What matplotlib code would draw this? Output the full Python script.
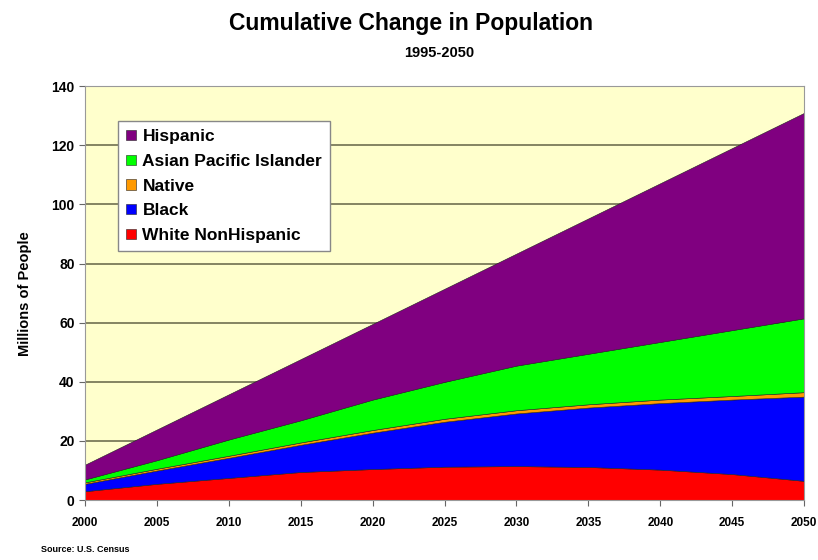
import matplotlib
matplotlib.use("Agg")
import matplotlib.pyplot as plt
import numpy as np

years = [2000, 2005, 2010, 2015, 2020, 2025, 2030, 2035, 2040, 2045, 2050]
# band values (millions)
white = [3.0, 5.5, 7.5, 9.5, 10.5, 11.3, 11.5, 11.2, 10.3, 8.8, 6.5]
black = [2.5, 4.5, 6.8, 9.2, 12.3, 15.2, 17.8, 20.1, 22.5, 25.2, 28.5]
native = [0.5, 0.6, 0.7, 0.8, 0.9, 1.0, 1.1, 1.1, 1.2, 1.2, 1.5]
asian = [1.0, 2.9, 5.5, 7.5, 10.3, 12.5, 15.1, 17.1, 19.5, 22.3, 25.0]
hispanic = [5.0, 10.4, 15.3, 20.7, 25.6, 31.5, 37.9, 45.8, 53.7, 61.6, 69.5]

labels = ["White NonHispanic", "Black", "Native", "Asian Pacific Islander", "Hispanic"]
colors = ["#FF0000", "#0000FF", "#FF9900", "#00FF00", "#800080"]
yticks = [0, 20, 40, 60, 80, 100, 120, 140]

plt.rcParams['font.family'] = ['Liberation Sans', 'DejaVu Sans']
fig = plt.figure(figsize=(8.18, 5.6), dpi=100)
ax = fig.add_axes([0.104, 0.107, 0.879, 0.739])
ax.set_facecolor("#FFFFCC")

polys = ax.stackplot(years, white, black, native, asian, hispanic,
                     colors=colors, labels=labels, edgecolor="#222222", linewidth=0.4, zorder=2)

ax.set_xlim(2000, 2050)
ax.set_ylim(0, 140)
ax.set_yticks(yticks)
ax.set_xticks(years)
ax.set_xticklabels([str(y) for y in years], fontsize=8.5, fontweight="bold")
ax.set_yticklabels([str(t) for t in yticks], fontsize=10, fontweight="bold")
ax.yaxis.grid(True, color="#707050", linewidth=1.2, zorder=1)
ax.set_axisbelow(True)
for s in ax.spines.values():
    s.set_color("#999999")
ax.tick_params(axis="both", direction="out", length=4, color="#666666")
ax.tick_params(axis="x", pad=8)

ax.set_ylabel("Millions of People", fontsize=10.5, fontweight="bold", labelpad=14)

fig.text(0.502, 0.958, "Cumulative Change in Population", ha="center", va="center",
         fontsize=16.5, fontweight="bold")
fig.text(0.537, 0.905, "1995-2050", ha="center", va="center", fontsize=10.5, fontweight="bold")
fig.text(0.05, 0.018, "Source: U.S. Census", ha="left", va="center", fontsize=6.5, fontweight="bold")

handles, labs = ax.get_legend_handles_labels()
leg = ax.legend(handles[::-1], labs[::-1], loc="upper left", bbox_to_anchor=(0.046, 0.915),
                borderaxespad=0,
                frameon=True, fancybox=False, prop={"weight": "bold", "size": 12.5},
                handlelength=0.55, handleheight=0.55, handletextpad=0.4,
                labelspacing=0.56, borderpad=0.45)
leg.get_frame().set_edgecolor("#888888")
leg.get_frame().set_facecolor("white")
leg.get_frame().set_alpha(1)
leg.set_zorder(5)

fig.savefig("out.png", dpi=100)
